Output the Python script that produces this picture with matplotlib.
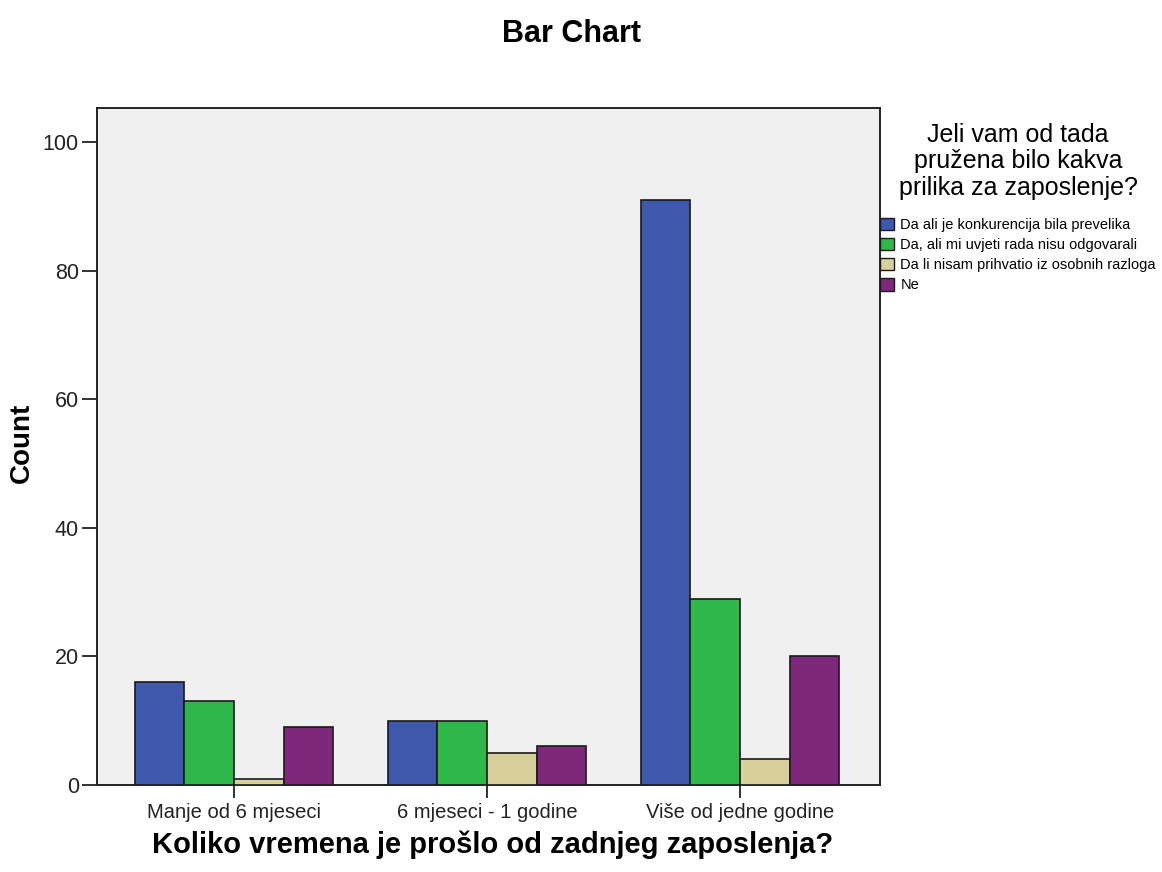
import matplotlib
matplotlib.use("Agg")
import matplotlib.pyplot as plt
import numpy as np
from matplotlib.patches import Patch

categories = ["Manje od 6 mjeseci", "6 mjeseci - 1 godine", "Više od jedne godine"]
series_names = ["Da ali je konkurencija bila prevelika",
                "Da, ali mi uvjeti rada nisu odgovarali",
                "Da li nisam prihvatio iz osobnih razloga",
                "Ne"]
s_konkurencija = [16, 10, 91]
s_uvjeti = [13, 10, 29]
s_osobni = [1, 5, 4]
s_ne = [9, 6, 20]
series = [s_konkurencija, s_uvjeti, s_osobni, s_ne]
colors = ["#3E58AC", "#2EB84A", "#D7D09A", "#7E287C"]
yticks = [0, 20, 40, 60, 80, 100]

plt.rcParams['font.family'] = ['Liberation Sans', 'DejaVu Sans']

fig = plt.figure(figsize=(11.62, 8.72), dpi=100)
ax = fig.add_axes([97/1162, 1-785/872, (880-97)/1162, (785-108)/872])
ax.set_facecolor("#F0F0F0")

x = np.arange(len(categories))
w = 0.196
for i, (vals, c) in enumerate(zip(series, colors)):
    ax.bar(x + (i - 1.5) * w, vals, width=w, color=c, edgecolor="#1a1a1a", linewidth=1.2, zorder=3)

ax.set_xlim(-0.5415, 2.553)
ax.set_ylim(0, 105.3)
ax.set_yticks(yticks)
ax.set_xticks(x)
ax.set_xticklabels(categories, fontsize=14.5)
ax.tick_params(axis='y', labelsize=15.5, length=11, width=1.3, direction='out', colors='#222222', pad=2)
ax.tick_params(axis='x', length=9, width=1.3, direction='out', colors='#222222', pad=4)
for sp in ax.spines.values():
    sp.set_linewidth(1.4)
    sp.set_color("#222222")

fig.text(572/1162, 1-34/872, "Bar Chart", ha='center', va='center', fontsize=22, fontweight='bold')
fig.text(22/1162, 1-443/872, "Count", ha='center', va='center', rotation=90, fontsize=20, fontweight='bold')
fig.text(493/1162, 1-845/872, "Koliko vremena je prošlo od zadnjeg zaposlenja?", ha='center', va='center', fontsize=21, fontweight='bold')

handles = [Patch(facecolor=c, edgecolor="#1a1a1a", linewidth=1.0) for c in colors]
leg = fig.legend(handles, series_names, loc='upper left', bbox_to_anchor=(880/1162, 1-123/872),
                 frameon=False, fontsize=10.5, handlelength=0.95, handleheight=0.95, handletextpad=0.45,
                 labelspacing=0.4, borderpad=0, borderaxespad=0,
                 title="Jeli vam od tada\npružena bilo kakva\nprilika za zaposlenje?",
                 title_fontproperties={'size': 18})
t = leg.get_title()
t.set_multialignment('center')
t.set_linespacing(1.12)
leg._legend_box.sep = 13

fig.savefig("out.png", dpi=100)
